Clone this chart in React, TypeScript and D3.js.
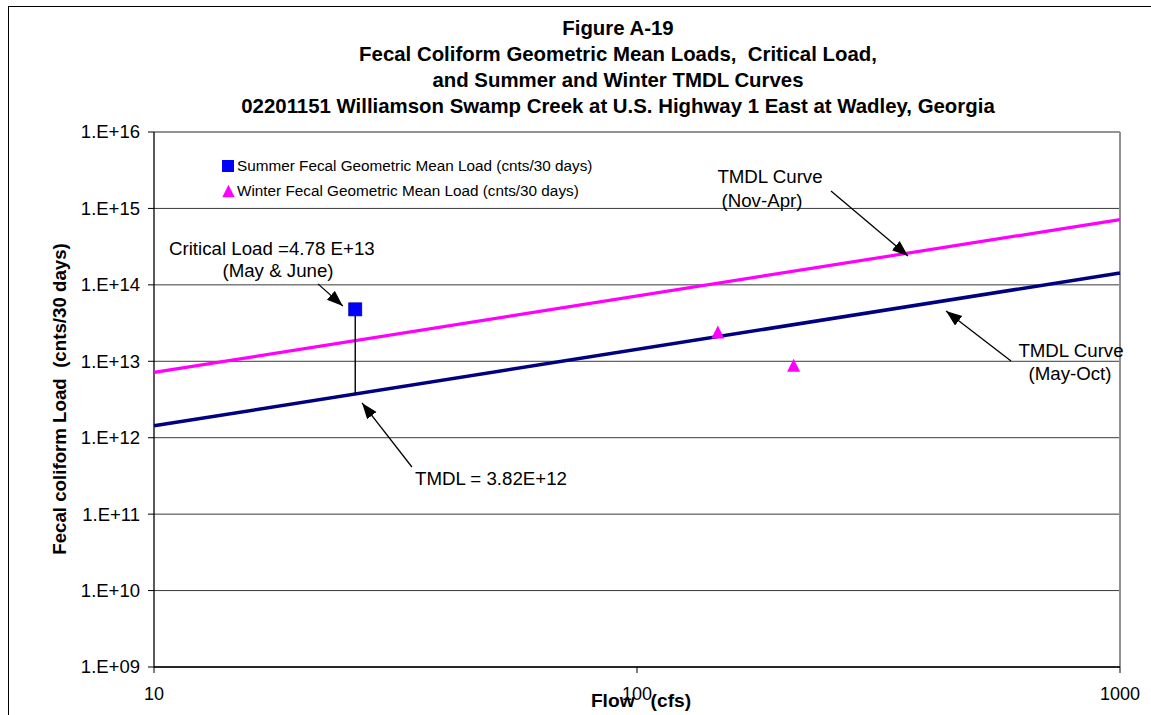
import * as d3 from 'd3';

// axis ranges and ticks
const flowDomain = [10, 1000];
const loadDomain = [1e9, 1e16];
const flowTicks = [10, 100, 1000];
const loadTicks = [1e9, 1e10, 1e11, 1e12, 1e13, 1e14, 1e15, 1e16];
const loadTickLabels = ['1.E+09', '1.E+10', '1.E+11', '1.E+12', '1.E+13', '1.E+14', '1.E+15', '1.E+16'];

// observed geometric mean loads
const summerFlow = [26.1];
const summerLoad = [4.78e13];
const winterFlow = [147, 211];
const winterLoad = [2.42e13, 8.9e12];

// TMDL curves (load = factor * flow)
const curveFlow = [10, 1000];
const summerCurve = [1.43e12, 1.43e14];
const winterCurve = [7.15e12, 7.15e14];

// critical condition
const criticalFlow = 26.1;
const criticalLoad = 4.78e13;
const criticalTmdl = 3.73e12;

const titleLines = [
  'Figure A-19',
  'Fecal Coliform Geometric Mean Loads,  Critical Load,',
  'and Summer and Winter TMDL Curves',
  '02201151 Williamson Swamp Creek at U.S. Highway 1 East at Wadley, Georgia',
];

const W = 1151;
const H = 715;
const plot = { left: 154, right: 1120, top: 132, bottom: 667 };
const FONT = '"Liberation Sans", Arial, sans-serif';

export default function App() {
  const x = d3.scaleLog().domain(flowDomain).range([plot.left, plot.right]);
  const y = d3.scaleLog().domain(loadDomain).range([plot.bottom, plot.top]);

  const line = d3
    .line<[number, number]>()
    .x((d) => x(d[0]))
    .y((d) => y(d[1]));

  const summerPts = curveFlow.map((f, i) => [f, summerCurve[i]] as [number, number]);
  const winterPts = curveFlow.map((f, i) => [f, winterCurve[i]] as [number, number]);

  const tri = (cx: number, cy: number, s: number) =>
    `M${cx},${cy - s / 2}L${cx + s / 2},${cy + s / 2}L${cx - s / 2},${cy + s / 2}Z`;

  // callouts placed in data space
  const arrows = [
    { from: [21.85, 1.03e14], to: [24.6, 5.3e13] },
    { from: [34.2, 4.14e11], to: [26.96, 2.85e12] },
    { from: [x.invert(831), y.invert(191)], to: [x.invert(908), y.invert(256)] },
    { from: [x.invert(1011), y.invert(361)], to: [x.invert(946), y.invert(311)] },
  ];

  return (
    <svg
      width={W}
      height={H}
      style={{ position: 'absolute', left: 0, top: 0, background: '#fff' }}
      fontFamily={FONT}
    >
      <defs>
        <marker
          id="head"
          markerUnits="userSpaceOnUse"
          markerWidth={18}
          markerHeight={14}
          refX={16}
          refY={6}
          orient="auto"
        >
          <path d="M0,0L16,6L0,12Z" fill="#000" />
        </marker>
      </defs>

      <rect x={8.5} y={6.5} width={W + 20} height={H + 20} fill="none" stroke="#000" strokeWidth={1} />

      {/* title */}
      {titleLines.map((t, i) => (
        <text
          key={i}
          x={618}
          y={35 + i * 26}
          textAnchor="middle"
          fontWeight="bold"
          fontSize={20.4}
          style={{ whiteSpace: 'pre' }}
        >
          {t}
        </text>
      ))}

      {/* gridlines */}
      {loadTicks.map((v) => (
        <line key={v} x1={plot.left} x2={plot.right} y1={y(v)} y2={y(v)} stroke="#3a3a3a" strokeWidth={1} />
      ))}
      <line x1={plot.left} x2={plot.right} y1={plot.top} y2={plot.top} stroke="#909090" strokeWidth={1.5} />
      <line x1={plot.right} x2={plot.right} y1={plot.top} y2={plot.bottom} stroke="#909090" strokeWidth={2} />

      {/* axes */}
      <line x1={plot.left} x2={plot.left} y1={plot.top} y2={plot.bottom} stroke="#000" strokeWidth={1.3} />
      <line x1={plot.left} x2={plot.right} y1={plot.bottom} y2={plot.bottom} stroke="#000" strokeWidth={1.6} />
      {loadTicks.map((v, i) => (
        <g key={v}>
          <line x1={plot.left - 6} x2={plot.left} y1={y(v)} y2={y(v)} stroke="#000" />
          <text x={140} y={y(v)} dy="0.35em" textAnchor="end" fontSize={18.5}>
            {loadTickLabels[i]}
          </text>
        </g>
      ))}
      {flowTicks.map((v) => (
        <g key={v}>
          <line x1={x(v)} x2={x(v)} y1={plot.bottom} y2={plot.bottom + 6} stroke="#000" />
          <text x={x(v)} y={700} textAnchor="middle" fontSize={18}>
            {v}
          </text>
        </g>
      ))}

      <text
        transform={`translate(66,399) rotate(-90)`}
        textAnchor="middle"
        fontWeight="bold"
        fontSize={18.7}
        style={{ whiteSpace: 'pre' }}
      >
        {'Fecal coliform Load  (cnts/30 days)'}
      </text>
      <text x={641} y={707} textAnchor="middle" fontWeight="bold" fontSize={19.2} style={{ whiteSpace: 'pre' }}>
        {'Flow   (cfs)'}
      </text>

      {/* TMDL curves */}
      <path d={line(winterPts) || ''} fill="none" stroke="#FF00FF" strokeWidth={3.2} />
      <path d={line(summerPts) || ''} fill="none" stroke="#000080" strokeWidth={3.5} />

      {/* critical load drop line */}
      <line
        x1={x(criticalFlow)}
        x2={x(criticalFlow)}
        y1={y(criticalLoad)}
        y2={y(criticalTmdl)}
        stroke="#000"
        strokeWidth={1.4}
      />

      {/* observed loads */}
      {summerFlow.map((f, i) => (
        <rect
          key={i}
          x={x(f) - 6.5}
          y={y(summerLoad[i]) - 6.5}
          width={13}
          height={13}
          fill="#0000FF"
          stroke="#0000B0"
          strokeWidth={0.8}
        />
      ))}
      {winterFlow.map((f, i) => (
        <path key={i} d={tri(x(f), y(winterLoad[i]), 13)} fill="#FF00FF" />
      ))}

      {/* callout arrows */}
      {arrows.map((a, i) => (
        <line
          key={i}
          x1={x(a.from[0])}
          y1={y(a.from[1])}
          x2={x(a.to[0])}
          y2={y(a.to[1])}
          stroke="#000"
          strokeWidth={1.3}
          markerEnd="url(#head)"
        />
      ))}

      {/* callout text */}
      <g fontSize={18.7}>
        <text x={169} y={255}>Critical Load =4.78 E+13</text>
        <text x={278} y={277} textAnchor="middle">(May &amp; June)</text>
        <text x={415} y={485}>TMDL = 3.82E+12</text>
        <text x={770} y={183} textAnchor="middle">TMDL Curve</text>
        <text x={762} y={207} textAnchor="middle">(Nov-Apr)</text>
        <text x={1071} y={357} textAnchor="middle">TMDL Curve</text>
        <text x={1070} y={380} textAnchor="middle">(May-Oct)</text>
      </g>

      {/* legend */}
      <rect x={222} y={160} width={12} height={12} fill="#0000FF" />
      <text x={237} y={171} fontSize={15.3}>
        Summer Fecal Geometric Mean Load (cnts/30 days)
      </text>
      <path d={tri(228.5, 191, 12.5)} fill="#FF00FF" />
      <text x={237} y={196} fontSize={15.3}>
        Winter Fecal Geometric Mean Load (cnts/30 days)
      </text>
    </svg>
  );
}
